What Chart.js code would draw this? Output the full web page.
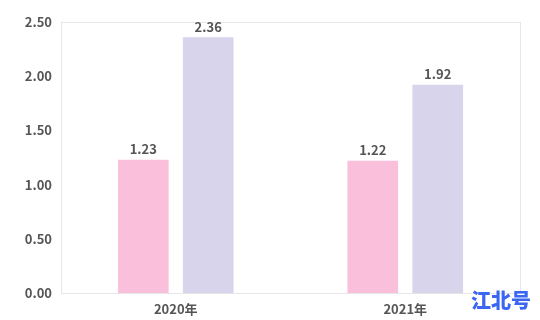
<!DOCTYPE html>
<html>
<head>
<meta charset="utf-8">
<script src="https://cdn.jsdelivr.net/npm/chart.js@4/dist/chart.umd.min.js"></script>
<style>
  html, body { margin: 0; padding: 0; background: #fff; }
  #wrap { position: relative; width: 540px; height: 320px; }
  canvas { display: block; }
  #mark { position: absolute; left: 471px; top: 288px; font-family: "Noto Sans CJK SC", sans-serif; font-weight: 900; font-size: 20px; color: #3b66f2; line-height: 24px; }
</style>
</head>
<body>
<div id="wrap">
  <canvas id="c" width="540" height="320"></canvas>
  <div id="mark">江北号</div>
</div>
<script>
const categories = ["2020年", "2021年"];
const seriesA = [1.23, 1.22];
const seriesB = [2.36, 1.92];
const yTicks = [0, 0.5, 1, 1.5, 2, 2.5];

const FONT = '"Noto Sans CJK SC", "Noto Sans", sans-serif';

const frame = {
  id: 'frame',
  beforeDatasetsDraw(chart) {
    const {ctx, chartArea: a} = chart;
    ctx.save();
    ctx.strokeStyle = '#e6e6e6';
    ctx.lineWidth = 1;
    ctx.strokeRect(Math.round(a.left) + 0.5, Math.round(a.top) + 0.5, Math.round(a.right - a.left), Math.round(a.bottom - a.top));
    ctx.restore();
  }
};

const labels = {
  id: 'labels',
  afterDatasetsDraw(chart) {
    const {ctx} = chart;
    ctx.save();
    ctx.font = 'bold 13px ' + FONT;
    ctx.fillStyle = '#555';
    ctx.textAlign = 'center';
    ctx.textBaseline = 'bottom';
    chart.data.datasets.forEach((ds, i) => {
      chart.getDatasetMeta(i).data.forEach((bar, j) => {
        ctx.fillText(ds.data[j].toFixed(2), bar.x, bar.y - 4);
      });
    });
    ctx.restore();
  }
};

new Chart(document.getElementById('c'), {
  type: 'bar',
  data: {
    labels: categories,
    datasets: [
      { label: 'A', data: seriesA, backgroundColor: '#f9bfdb' },
      { label: 'B', data: seriesB, backgroundColor: '#d7d4ec' }
    ]
  },
  options: {
    responsive: false,
    animation: false,
    events: [],
    layout: { padding: { top: 22, right: 20, left: 0, bottom: 0 } },
    plugins: { legend: { display: false }, tooltip: { enabled: false } },
    datasets: { bar: { categoryPercentage: 0.566, barPercentage: 0.78 } },
    scales: {
      x: {
        grid: { display: false, drawTicks: false },
        border: { display: false },
        ticks: { color: '#555', font: { family: FONT, size: 13, weight: 'bold' }, padding: 8 },
        afterFit(s) { s.height = 27; }
      },
      y: {
        min: 0, max: 2.5,
        grid: { display: false, drawTicks: false },
        border: { display: false },
        afterBuildTicks(s) { s.ticks = yTicks.map(v => ({ value: v })); },
        ticks: {
          color: '#555', padding: 9,
          font: { family: FONT, size: 13, weight: 'bold' },
          callback: v => Number(v).toFixed(2)
        },
        afterFit(s) { s.width = 61; }
      }
    }
  },
  plugins: [frame, labels]
});
</script>
</body>
</html>
